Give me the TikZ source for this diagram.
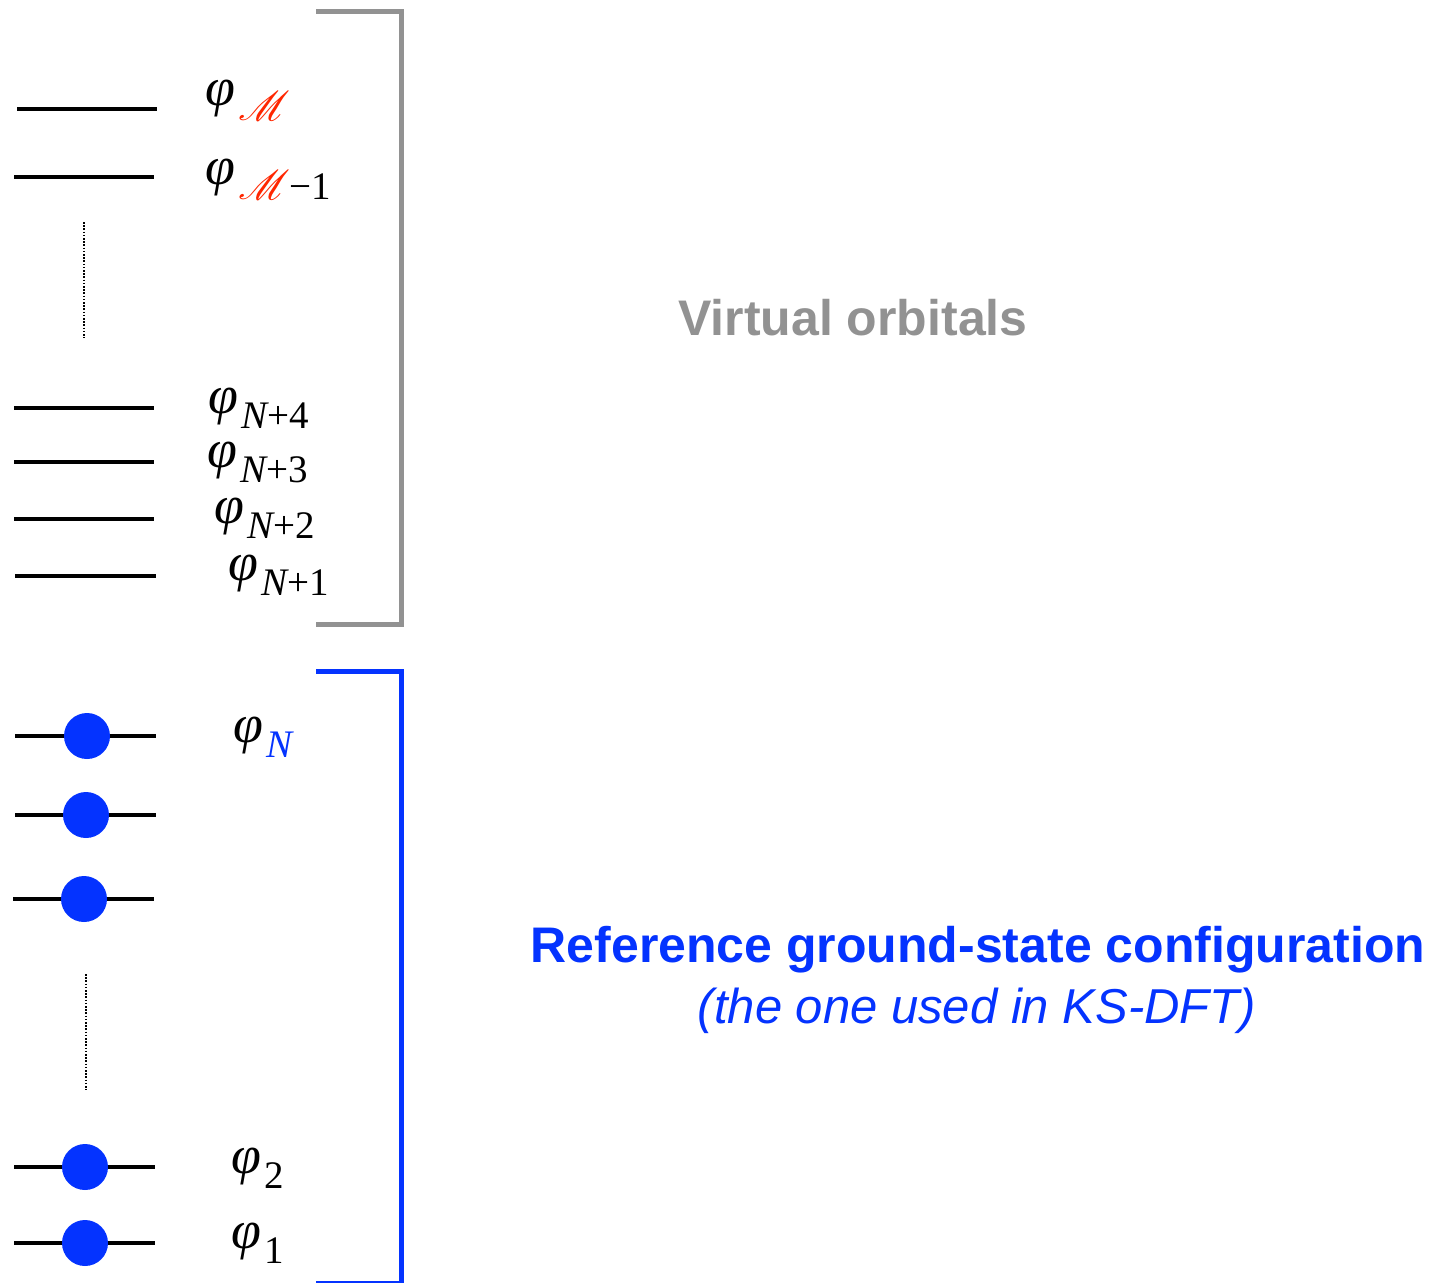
\documentclass[tikz,border=0pt]{standalone}
\usepackage{fontspec}
\usepackage{mathrsfs}
\newfontfamily\labfont{Liberation Sans}
\newfontfamily\tmsfont{Liberation Serif}
\definecolor{kblue}{RGB}{4,51,255}
\definecolor{kred}{RGB}{255,38,0}
\definecolor{kgray}{RGB}{146,146,146}
\newcommand\orbl[1]{{\tmsfont\itshape φ}\kern1.5pt\raisebox{-7.5pt}{\fontsize{19.5}{20}\selectfont\tmsfont #1}}
\newcommand\scrM{{\color{kred}$\mathscr{M}$}}
\tikzset{
  level/.style={line width=2pt, black},
  electron/.style={circle, fill=kblue, draw=none, inner sep=0pt, minimum size=23pt},
  phil/.style={anchor=base west, inner sep=0pt, font=\fontsize{27}{30}\selectfont},
  bracketv/.style={line width=2.5pt, draw=kgray},
  bracketo/.style={line width=2.5pt, draw=kblue},
  dotline/.style={line width=0.7pt, dash pattern=on 0.8pt off 0.8pt},
  headtxt/.style={font=\labfont\bfseries\fontsize{25}{29}\selectfont, inner sep=0pt}
}
\begin{document}
\begin{tikzpicture}[x=0.5pt,y=-0.5pt]
\useasboundingbox (0,0) rectangle (1432,1282);
% virtual levels
\coordinate (m0a) at (17,109);  \coordinate (m0b) at (157,109);
\coordinate (m1a) at (14,177);  \coordinate (m1b) at (154,177);
\coordinate (v4a) at (14,408);  \coordinate (v4b) at (154,408);
\coordinate (v3a) at (14,462);  \coordinate (v3b) at (154,462);
\coordinate (v2a) at (14,519);  \coordinate (v2b) at (154,519);
\coordinate (v1a) at (15,576);  \coordinate (v1b) at (156,576);
\draw[level] (m0a) -- (m0b);
\draw[level] (m1a) -- (m1b);
\draw[level] (v4a) -- (v4b);
\draw[level] (v3a) -- (v3b);
\draw[level] (v2a) -- (v2b);
\draw[level] (v1a) -- (v1b);
\coordinate (dv1) at (84,222); \coordinate (dv2) at (84,338);
\draw[dotline] (dv1) -- (dv2);
% occupied levels
\coordinate (oNa) at (15,736);  \coordinate (oNb) at (156,736);
\coordinate (oBa) at (15,815);  \coordinate (oBb) at (156,815);
\coordinate (oCa) at (13,899);  \coordinate (oCb) at (154,899);
\coordinate (o2a) at (14,1167); \coordinate (o2b) at (155,1167);
\coordinate (o1a) at (14,1243); \coordinate (o1b) at (155,1243);
\draw[level] (oNa) -- (oNb);
\draw[level] (oBa) -- (oBb);
\draw[level] (oCa) -- (oCb);
\draw[level] (o2a) -- (o2b);
\draw[level] (o1a) -- (o1b);
\node[electron] (eN) at (87,736) {};
\node[electron] (eB) at (86,815) {};
\node[electron] (eC) at (84,899) {};
\node[electron] (e2) at (85,1167) {};
\node[electron] (e1) at (85,1243) {};
\coordinate (do1) at (86,974); \coordinate (do2) at (86,1090);
\draw[dotline] (do1) -- (do2);
% labels
\node[phil] (lM)  at (205,105) {\orbl{\scrM}};
\node[phil] (lM1) at (205,184) {\orbl{\scrM−1}};
\node[phil] (l4)  at (208,413) {\orbl{\itshape N\upshape+4}};
\node[phil] (l3)  at (207,467) {\orbl{\itshape N\upshape+3}};
\node[phil] (l2)  at (214,523) {\orbl{\itshape N\upshape+2}};
\node[phil] (l1)  at (228,580) {\orbl{\itshape N\upshape+1}};
\node[phil] (lN)  at (233,742) {\orbl{\color{kblue}\itshape N}};
\node[phil] (lo2) at (231,1173) {\orbl{2}};
\node[phil] (lo1) at (231,1248) {\orbl{1}};
% brackets
\coordinate (gv1) at (316,11); \coordinate (gv2) at (401,11);
\coordinate (gv3) at (401,624); \coordinate (gv4) at (316,624);
\draw[bracketv] (gv1) -- (gv2) -- (gv3) -- (gv4);
\coordinate (bo1) at (316,671); \coordinate (bo2) at (401,671);
\coordinate (bo3) at (401,1283); \coordinate (bo4) at (316,1283);
\draw[bracketo] (bo1) -- (bo2) -- (bo3) -- (bo4);
% headings
\node[headtxt, text=kgray] (virt) at (853,318) {Virtual orbitals};
\node[headtxt, text=kblue] (ref) at (978,950) {Reference ground-state configuration};
\node[inner sep=0pt, text=kblue, font=\labfont\itshape\fontsize{24.5}{29}\selectfont] (refsub) at (977,1011) {(the one used in KS-DFT)};
\end{tikzpicture}
\end{document}
